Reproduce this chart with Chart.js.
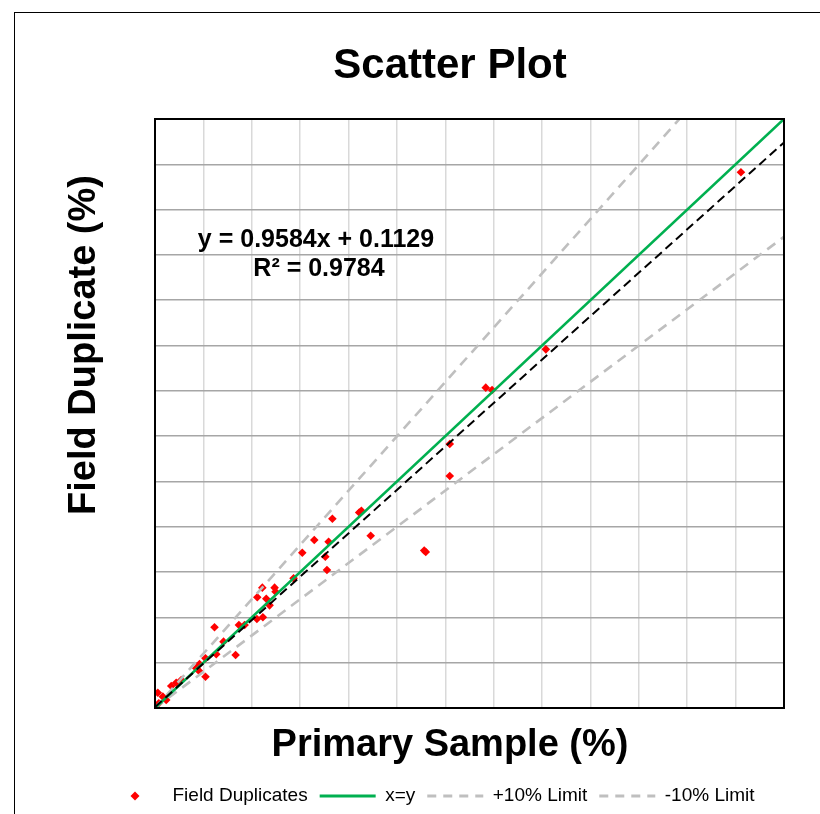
<!DOCTYPE html>
<html>
<head>
<meta charset="utf-8">
<title>Scatter Plot</title>
<script src="https://cdn.jsdelivr.net/npm/chart.js@4.4.1/dist/chart.umd.min.js"></script>
<style>
  html, body { margin: 0; padding: 0; background: #fff; overflow: hidden; }
  #frame { position: absolute; left: 14px; top: 12px; width: 1000px; height: 1000px; border-left: 1px solid #000; border-top: 1px solid #000; }
  #wrap { position: absolute; left: 0; top: 0; width: 820px; height: 830px; }
</style>
</head>
<body>
<div id="frame"></div>
<div id="wrap"><canvas id="scatterChart"></canvas></div>
<script>
// Field duplicate pairs (primary %, duplicate %)
const primarySample = [
  60.55, 40.39, 34.18, 34.83, 30.46, 30.46, 21.33, 21.10, 22.29, 27.98, 27.82,
  18.33, 16.46, 17.94, 15.22, 17.60, 17.77, 14.32, 11.09, 12.36, 12.46, 10.57,
  11.50, 11.84, 6.15, 8.67, 9.26, 10.53, 11.15, 7.08, 6.33, 8.33, 5.22, 4.60,
  4.26, 4.53, 5.22, 2.71, 2.19, 1.68, 0.29, 0.81, 0.39, 1.16
];
const fieldDuplicate = [
  59.12, 39.58, 35.35, 35.09, 29.13, 25.60, 21.77, 21.57, 19.01, 17.22, 17.38,
  20.89, 18.54, 18.35, 17.14, 16.70, 15.23, 14.31, 13.28, 13.28, 12.83, 12.22,
  12.06, 11.33, 8.91, 9.16, 9.16, 9.82, 10.01, 7.32, 5.93, 5.85, 5.48, 4.86,
  4.38, 4.12, 3.45, 3.09, 2.79, 2.43, 1.69, 1.25, 0.52, 0.88
];

// Reference lines (end points)
const oneToOneX = [0, 65];
const oneToOneY = [0, 65];
const upperLimitX = [0, 54.2];
const upperLimitY = [0, 65];
const lowerLimitX = [0, 65];
const lowerLimitY = [0, 52];
const trendX = [0, 65];
const trendY = [0.11, 62.41];

// Axis
const axisMin = 0;
const axisMax = 65;
const axisStep = 5;

const equationLines = ['y = 0.9584x + 0.1129', 'R\u00B2 = 0.9784'];
const legendLabels = ['Field Duplicates', 'x=y', '+10% Limit', '-10% Limit'];

const FONT = "'Liberation Sans', Arial, sans-serif";

function toPoints(xs, ys) {
  return xs.map((x, i) => ({ x: x, y: ys[i] }));
}

// legend symbols, equation, y title and plot border
const decorPlugin = {
  id: 'decor',
  afterDatasetsDraw(chart) {
    const { ctx, chartArea } = chart;
    ctx.save();
    ctx.strokeStyle = '#000';
    ctx.lineWidth = 2;
    ctx.strokeRect(chartArea.left, chartArea.top, chartArea.right - chartArea.left, chartArea.bottom - chartArea.top);
    ctx.restore();
  },
  afterDraw(chart) {
    const { ctx } = chart;
    ctx.save();
    // trendline equation
    ctx.fillStyle = '#000';
    ctx.font = 'bold 25px ' + FONT;
    ctx.textAlign = 'center';
    ctx.textBaseline = 'middle';
    ctx.fillText(equationLines[0], 316, 240);
    ctx.fillText(equationLines[1], 319, 269);

    // y axis title
    ctx.save();
    ctx.translate(85, 345);
    ctx.rotate(-Math.PI / 2);
    ctx.font = 'bold 38px ' + FONT;
    ctx.fillText('Field Duplicate (%)', 0, 0);
    ctx.restore();

    // legend symbols
    const boxes = chart.legend.legendHitBoxes || [];
    boxes.forEach((hb, i) => {
      const cx = hb.left + 28;
      const cy = hb.top + hb.height / 2;
      ctx.beginPath();
      if (i === 0) {
        ctx.fillStyle = '#ff0000';
        ctx.moveTo(cx, cy - 4.5);
        ctx.lineTo(cx + 4.5, cy);
        ctx.lineTo(cx, cy + 4.5);
        ctx.lineTo(cx - 4.5, cy);
        ctx.closePath();
        ctx.fill();
      } else {
        ctx.lineWidth = 3;
        ctx.strokeStyle = i === 1 ? '#00b050' : '#bfbfbf';
        ctx.setLineDash(i === 1 ? [] : [9, 7]);
        ctx.moveTo(hb.left, cy);
        ctx.lineTo(hb.left + 56, cy);
        ctx.stroke();
        ctx.setLineDash([]);
      }
    });
    ctx.restore();
  }
};

document.addEventListener('DOMContentLoaded', function () {
  Chart.defaults.color = '#000';
  Chart.defaults.font.family = FONT;

  const ctx = document.getElementById('scatterChart');
  new Chart(ctx, {
    type: 'scatter',
    data: {
      datasets: [{
        label: 'Trend',
        data: toPoints(trendX, trendY),
        showLine: true,
        borderColor: '#000',
        borderWidth: 2,
        borderDash: [9, 5],
        pointRadius: 0,
        order: 1
      }, {
        label: 'x=y',
        data: toPoints(oneToOneX, oneToOneY),
        showLine: true,
        borderColor: '#00b050',
        borderWidth: 2.6,
        pointRadius: 0,
        order: 2
      }, {
        label: '+10% Limit',
        data: toPoints(upperLimitX, upperLimitY),
        showLine: true,
        borderColor: '#bfbfbf',
        borderWidth: 2.6,
        borderDash: [10, 7],
        pointRadius: 0,
        order: 3
      }, {
        label: '-10% Limit',
        data: toPoints(lowerLimitX, lowerLimitY),
        showLine: true,
        borderColor: '#bfbfbf',
        borderWidth: 2.6,
        borderDash: [10, 7],
        pointRadius: 0,
        order: 4
      }, {
        label: 'Field Duplicates',
        data: toPoints(primarySample, fieldDuplicate),
        pointStyle: 'rectRot',
        pointRadius: 4.3,
        pointBorderWidth: 0,
        backgroundColor: '#ff0000',
        borderColor: '#ff0000',
        order: 5
      }]
    },
    options: {
      responsive: true,
      maintainAspectRatio: false,
      animation: false,
      layout: {
        padding: { left: 95, right: 15, top: 0, bottom: 14.4 }
      },
      plugins: {
        title: {
          display: true,
          text: 'Scatter Plot',
          font: { size: 42, weight: 'bold', lineHeight: 1.2 },
          padding: { top: 41, bottom: 27.6 }
        },
        subtitle: {
          display: true,
          text: 'Primary Sample (%)',
          position: 'bottom',
          weight: 500,
          font: { size: 38, weight: 'bold', lineHeight: 1.2 },
          padding: { top: 11, bottom: 6 }
        },
        legend: {
          position: 'bottom',
          align: 'start',
          labels: {
            boxWidth: 56,
            boxHeight: 0,
            padding: 12,
            color: '#262626',
            font: { size: 19 },
            generateLabels: function () {
              return legendLabels.map((text, i) => ({
                text: text,
                fillStyle: 'rgba(0,0,0,0)',
                strokeStyle: 'rgba(0,0,0,0)',
                lineWidth: 0,
                hidden: false,
                datasetIndex: 4 - i
              }));
            }
          }
        },
        tooltip: { enabled: false }
      },
      scales: {
        x: {
          type: 'linear',
          min: axisMin,
          max: axisMax,
          ticks: { display: false, stepSize: axisStep },
          grid: { color: '#d9d9d9', lineWidth: 1.5, drawTicks: false },
          border: { display: false },
          afterFit: function (scale) { scale.height = 4; }
        },
        y: {
          type: 'linear',
          min: axisMin,
          max: axisMax,
          ticks: { display: false, stepSize: axisStep },
          grid: { color: '#a6a6a6', lineWidth: 1.5, drawTicks: false },
          border: { display: false },
          afterFit: function (scale) { scale.width = 60; }
        },
        y2: {
          type: 'linear',
          position: 'right',
          ticks: { display: false },
          grid: { display: false, drawTicks: false },
          border: { display: false },
          afterFit: function (scale) { scale.width = 21; }
        }
      }
    },
    plugins: [decorPlugin]
  });
});
</script>
</body>
</html>
